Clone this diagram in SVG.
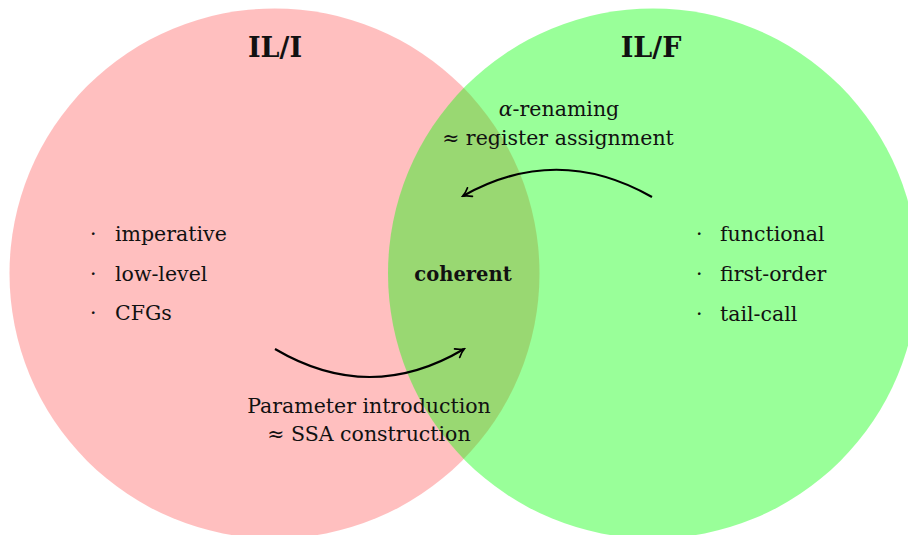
<svg xmlns="http://www.w3.org/2000/svg" width="908" height="535" viewBox="0 0 908 535">
<defs>
<marker id="ah" viewBox="0 0 12 12" refX="10" refY="6" markerWidth="12" markerHeight="12" markerUnits="userSpaceOnUse" orient="auto">
<path d="M2,1 Q6,4.5 10.5,6 Q6,7.5 2,11" fill="none" stroke="#000" stroke-width="1.7" stroke-linecap="round"/>
</marker>
<style>
text{font-family:"DejaVu Serif","Liberation Serif",serif;fill:#111;font-size:20.5px}
.t{font-weight:bold;font-size:27px;text-anchor:middle}
.b{font-weight:bold;text-anchor:middle;font-size:19.5px}
.c{text-anchor:middle}
.arc{fill:none;stroke:#000;stroke-width:2.2;marker-end:url(#ah)}
</style>
</defs>
<g id="il-i">
<circle cx="274.5" cy="273.5" r="265" fill="#ff0000" fill-opacity="0.25"/>
<text class="t" x="275" y="57">IL/I</text>
<text x="90" y="241">·</text><text x="115" y="241">imperative</text>
<text x="90" y="281">·</text><text x="115" y="281">low-level</text>
<text x="90" y="320">·</text><text x="115" y="320">CFGs</text>
</g>
<g id="il-f">
<circle cx="653" cy="273.5" r="265" fill="#00ff00" fill-opacity="0.4"/>
<text class="t" x="651" y="57">IL/F</text>
<text x="696" y="241">·</text><text x="720" y="241">functional</text>
<text x="696" y="281">·</text><text x="720" y="281">first-order</text>
<text x="696" y="321">·</text><text x="720" y="321">tail-call</text>
</g>
<g id="coherent">
<text class="b" x="463" y="281">coherent</text>
</g>
<g id="connectors">
<path class="arc" d="M652,197 Q557,143 463,196"/>
<path class="arc" d="M275,349 Q370,405 464,349"/>
</g>
<g id="labels">
<text class="c" x="559" y="116"><tspan font-style="italic">α</tspan>-renaming</text>
<text class="c" x="558" y="145">≈ register assignment</text>
<text class="c" x="369" y="413">Parameter introduction</text>
<text class="c" x="369" y="441">≈ SSA construction</text>
</g>
</svg>
